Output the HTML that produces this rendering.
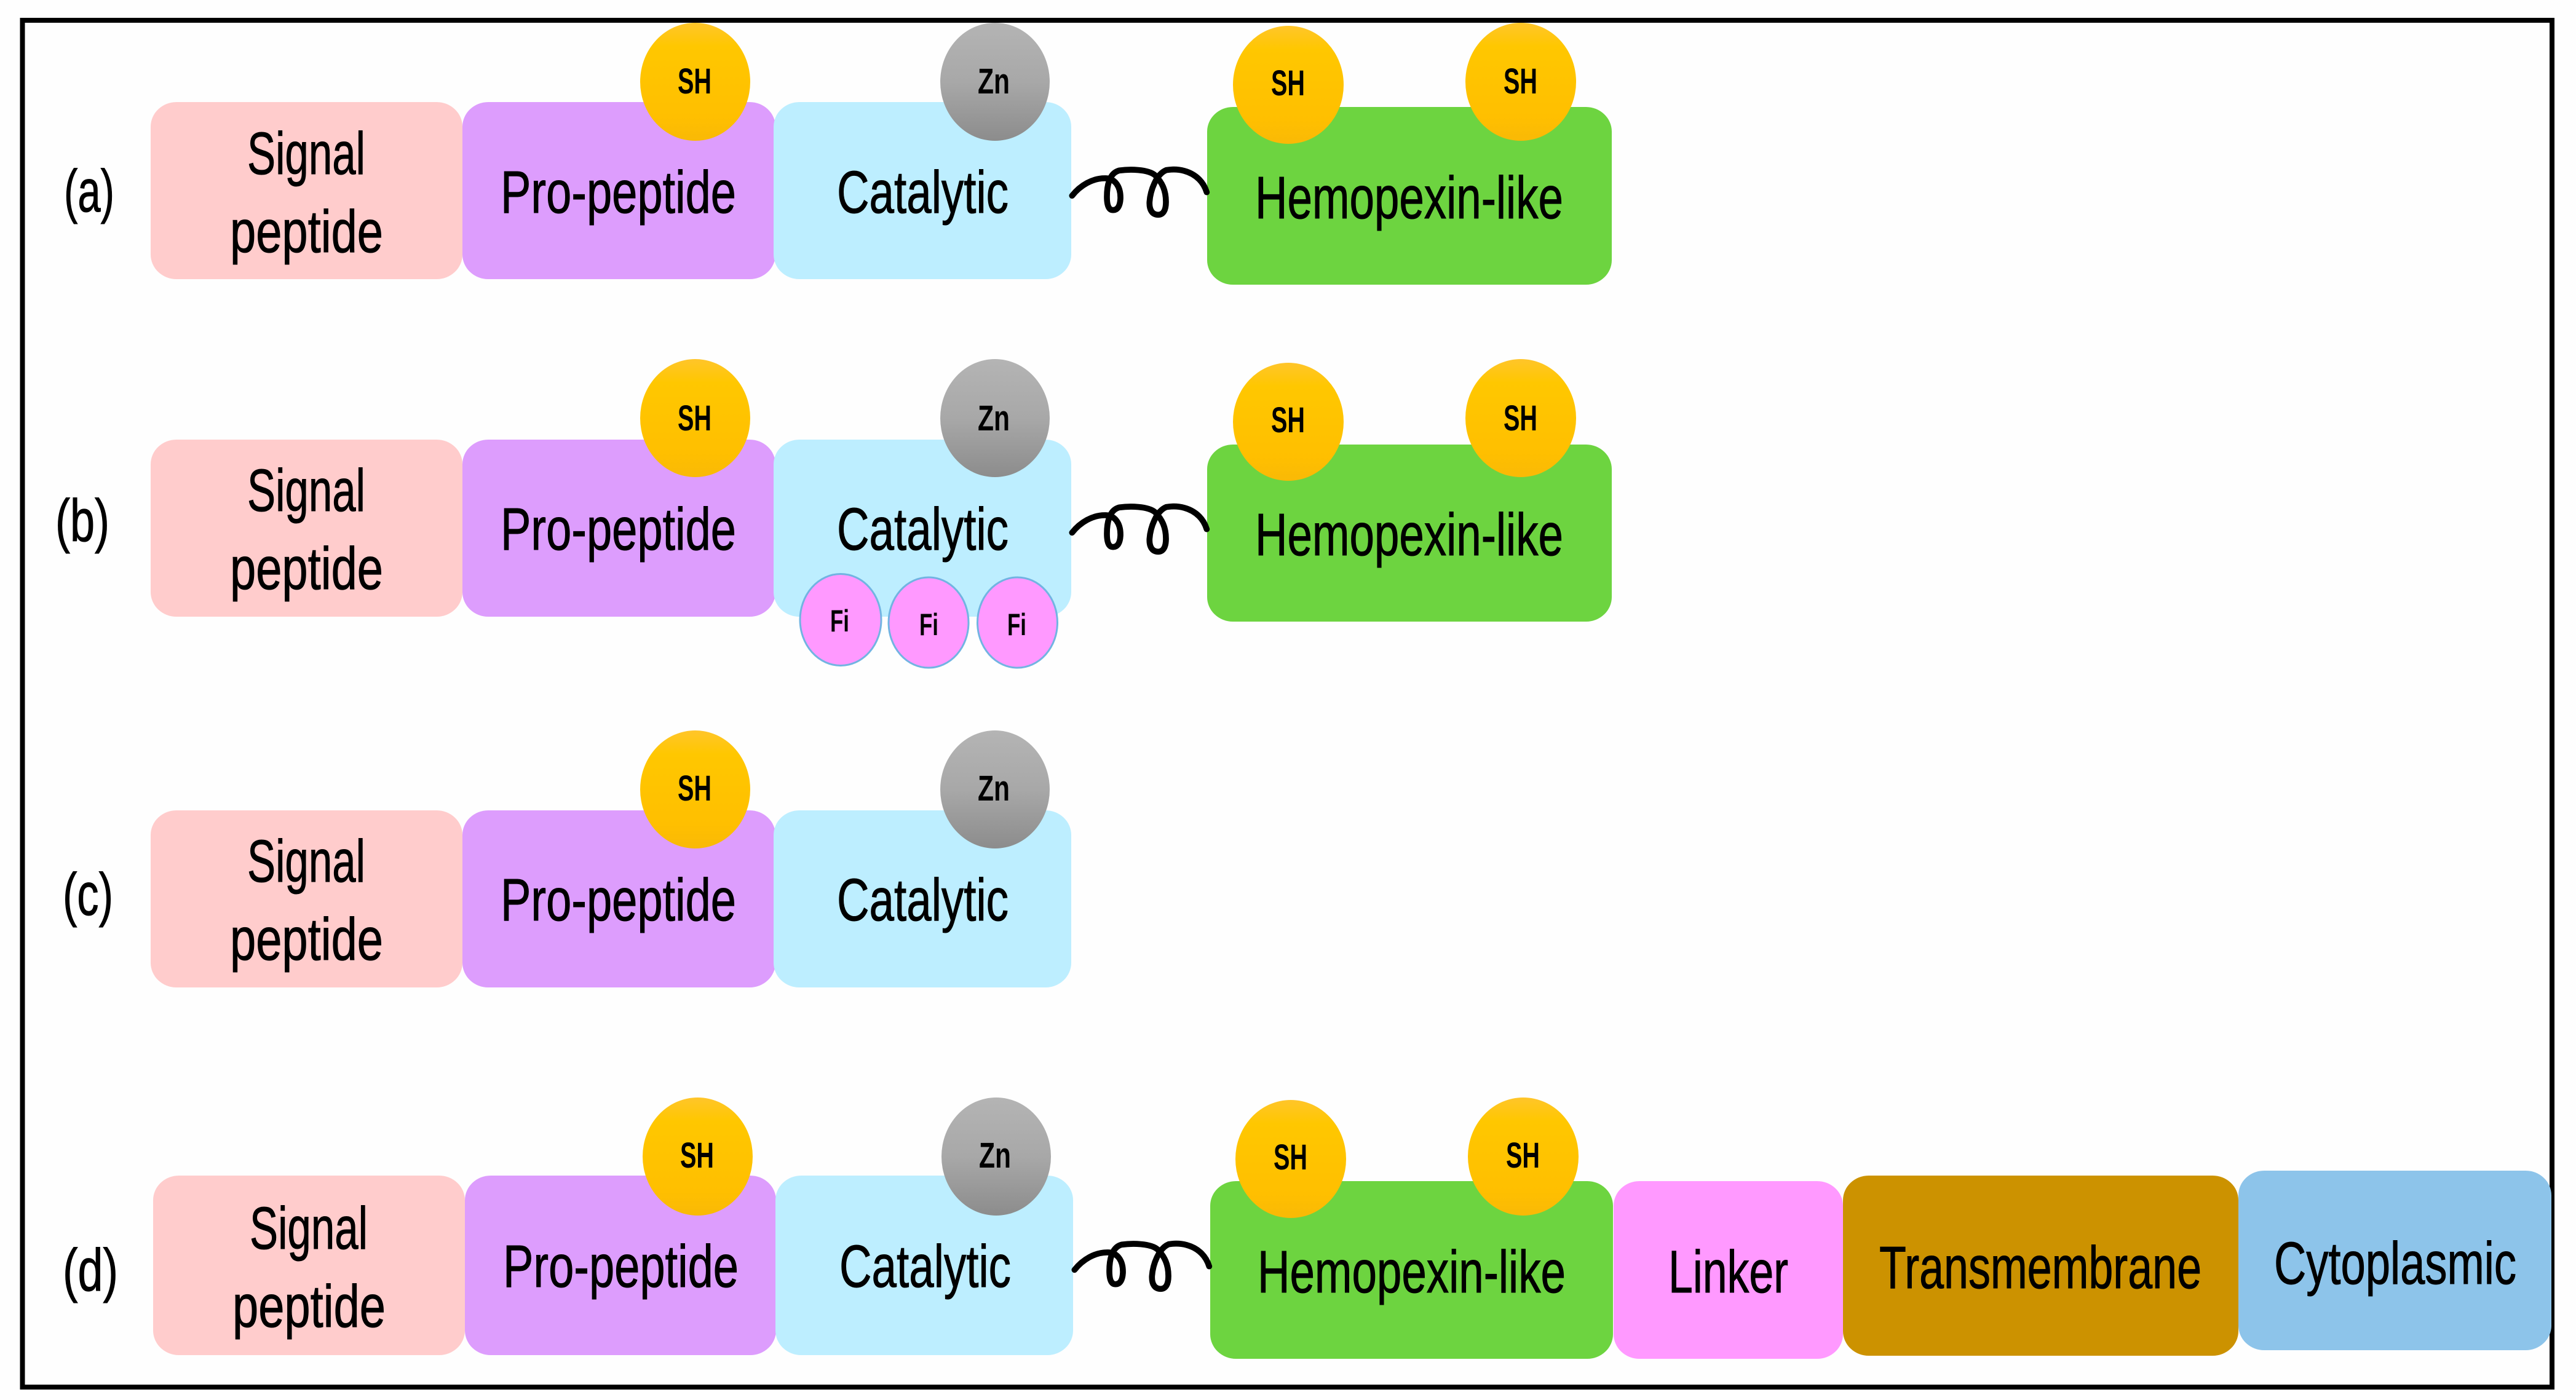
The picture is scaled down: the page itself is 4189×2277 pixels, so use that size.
<!DOCTYPE html>
<html><head><meta charset="utf-8"><style>html,body{margin:0;padding:0;background:#fff}svg{display:block}text{font-family:"Liberation Sans",sans-serif;fill:#000;stroke:#000;stroke-width:1;font-size:97px}.s{font-size:58px;font-weight:bold;stroke-width:0}.f{font-size:50px;font-weight:bold;stroke-width:0}.c{fill:none;stroke:#000;stroke-width:29;stroke-linecap:round}</style></head><body>
<svg width="4189" height="2277" viewBox="0 0 4189 2277" xmlns="http://www.w3.org/2000/svg">
<defs>
<linearGradient id="y" x1="0" y1="0" x2="0" y2="1"><stop offset="0" stop-color="#ffc52a"/><stop offset=".2" stop-color="#ffc700"/><stop offset=".8" stop-color="#ffbf00"/><stop offset="1" stop-color="#f9b906"/></linearGradient>
<linearGradient id="g" x1="0" y1="0" x2="0" y2="1"><stop offset="0" stop-color="#b4b4b4"/><stop offset=".5" stop-color="#a8a8a8"/><stop offset="1" stop-color="#8c8c8c"/></linearGradient>
</defs>
<rect width="4189" height="2277" fill="#fefefe"/>
<rect x="36.500" y="33" width="4113.500" height="2223" fill="none" stroke="#000" stroke-width="8"/>

<!-- Row a -->
<rect x="245" y="166" width="507" height="288" rx="42" ry="40" fill="#ffcccc"/>
<rect x="752" y="166" width="509" height="288" rx="42" ry="40" fill="#dd9dfd"/>
<rect x="1258" y="166" width="484" height="288" rx="42" ry="40" fill="#bdeeff"/>
<rect x="1963" y="174" width="658" height="289" rx="42" ry="40" fill="#6dd440"/>
<ellipse cx="1130.500" cy="133" rx="89.500" ry="96" fill="url(#y)"/>
<ellipse cx="1618" cy="133" rx="89" ry="96" fill="url(#g)"/>
<ellipse cx="2095" cy="138" rx="90" ry="96" fill="url(#y)"/>
<ellipse cx="2473" cy="133" rx="90" ry="96" fill="url(#y)"/>
<g transform="translate(1730 240) scale(.33333)"><path class="c" d="M40 235C80 185 140 148 205 150C250 152 278 190 276 250C274 285 262 305 240 305C218 305 210 280 210 240C210 190 220 125 270 112C320 105 410 105 445 135C480 170 498 210 498 265C498 305 485 328 460 328C432 328 416 305 418 265C422 210 450 130 500 110C560 100 620 115 660 155C680 175 690 195 697 218"/></g>
<text x="402" y="283" textLength="192" lengthAdjust="spacingAndGlyphs">Signal</text>
<text x="374" y="410" textLength="249" lengthAdjust="spacingAndGlyphs">peptide</text>
<text x="814" y="346" textLength="383" lengthAdjust="spacingAndGlyphs">Pro-peptide</text>
<text x="1361" y="346" textLength="279" lengthAdjust="spacingAndGlyphs">Catalytic</text>
<text x="2041" y="355" textLength="501" lengthAdjust="spacingAndGlyphs">Hemopexin-like</text>
<text x="104" y="344" textLength="82" lengthAdjust="spacingAndGlyphs">(a)</text>
<text class="s" x="1102" y="152" textLength="55" lengthAdjust="spacingAndGlyphs">SH</text>
<text class="s" x="1590" y="152" textLength="52" lengthAdjust="spacingAndGlyphs">Zn</text>
<text class="s" x="2067" y="155" textLength="55" lengthAdjust="spacingAndGlyphs">SH</text>
<text class="s" x="2445" y="152" textLength="55" lengthAdjust="spacingAndGlyphs">SH</text>

<!-- Row b -->
<rect x="245" y="715" width="507" height="288" rx="42" ry="40" fill="#ffcccc"/>
<rect x="752" y="715" width="509" height="288" rx="42" ry="40" fill="#dd9dfd"/>
<rect x="1258" y="715" width="484" height="288" rx="42" ry="40" fill="#bdeeff"/>
<rect x="1963" y="723" width="658" height="288" rx="42" ry="40" fill="#6dd440"/>
<ellipse cx="1130.500" cy="680" rx="89.500" ry="96" fill="url(#y)"/>
<ellipse cx="1618" cy="680" rx="89" ry="96" fill="url(#g)"/>
<ellipse cx="2095" cy="686" rx="90" ry="96" fill="url(#y)"/>
<ellipse cx="2473" cy="680" rx="90" ry="96" fill="url(#y)"/>
<g transform="translate(1730 788) scale(.33333)"><path class="c" d="M40 235C80 185 140 148 205 150C250 152 278 190 276 250C274 285 262 305 240 305C218 305 210 280 210 240C210 190 220 125 270 112C320 105 410 105 445 135C480 170 498 210 498 265C498 305 485 328 460 328C432 328 416 305 418 265C422 210 450 130 500 110C560 100 620 115 660 155C680 175 690 195 697 218"/></g>
<ellipse cx="1367" cy="1008" rx="66" ry="74.500" fill="#ff99ff" stroke="#72b4e2" stroke-width="3"/>
<ellipse cx="1510" cy="1012.500" rx="65" ry="73.500" fill="#ff99ff" stroke="#72b4e2" stroke-width="3"/>
<ellipse cx="1654.500" cy="1012.500" rx="65" ry="73.500" fill="#ff99ff" stroke="#72b4e2" stroke-width="3"/>
<text class="f" x="1350" y="1027" textLength="31" lengthAdjust="spacingAndGlyphs">Fi</text>
<text class="f" x="1495" y="1033" textLength="31" lengthAdjust="spacingAndGlyphs">Fi</text>
<text class="f" x="1638" y="1033" textLength="31" lengthAdjust="spacingAndGlyphs">Fi</text>
<text x="402" y="831" textLength="192" lengthAdjust="spacingAndGlyphs">Signal</text>
<text x="374" y="958" textLength="249" lengthAdjust="spacingAndGlyphs">peptide</text>
<text x="814" y="894" textLength="383" lengthAdjust="spacingAndGlyphs">Pro-peptide</text>
<text x="1361" y="894" textLength="279" lengthAdjust="spacingAndGlyphs">Catalytic</text>
<text x="2041" y="903" textLength="501" lengthAdjust="spacingAndGlyphs">Hemopexin-like</text>
<text x="90" y="880" textLength="88" lengthAdjust="spacingAndGlyphs">(b)</text>
<text class="s" x="1102" y="700" textLength="55" lengthAdjust="spacingAndGlyphs">SH</text>
<text class="s" x="1590" y="700" textLength="52" lengthAdjust="spacingAndGlyphs">Zn</text>
<text class="s" x="2067" y="703" textLength="55" lengthAdjust="spacingAndGlyphs">SH</text>
<text class="s" x="2445" y="700" textLength="55" lengthAdjust="spacingAndGlyphs">SH</text>

<!-- Row c -->
<rect x="245" y="1318" width="507" height="288" rx="42" ry="40" fill="#ffcccc"/>
<rect x="752" y="1318" width="509" height="288" rx="42" ry="40" fill="#dd9dfd"/>
<rect x="1258" y="1318" width="484" height="288" rx="42" ry="40" fill="#bdeeff"/>
<ellipse cx="1130.500" cy="1284" rx="89.500" ry="96" fill="url(#y)"/>
<ellipse cx="1618" cy="1284" rx="89" ry="96" fill="url(#g)"/>
<text x="402" y="1434" textLength="192" lengthAdjust="spacingAndGlyphs">Signal</text>
<text x="374" y="1561" textLength="249" lengthAdjust="spacingAndGlyphs">peptide</text>
<text x="814" y="1497" textLength="383" lengthAdjust="spacingAndGlyphs">Pro-peptide</text>
<text x="1361" y="1497" textLength="279" lengthAdjust="spacingAndGlyphs">Catalytic</text>
<text x="102" y="1488" textLength="82" lengthAdjust="spacingAndGlyphs">(c)</text>
<text class="s" x="1102" y="1302" textLength="55" lengthAdjust="spacingAndGlyphs">SH</text>
<text class="s" x="1590" y="1302" textLength="52" lengthAdjust="spacingAndGlyphs">Zn</text>

<!-- Row d -->
<rect x="249" y="1912" width="507" height="292" rx="42" ry="40" fill="#ffcccc"/>
<rect x="756" y="1912" width="506" height="292" rx="42" ry="40" fill="#dd9dfd"/>
<rect x="1261" y="1912" width="484" height="292" rx="42" ry="40" fill="#bdeeff"/>
<rect x="1968" y="1921" width="655" height="289" rx="42" ry="40" fill="#6dd440"/>
<rect x="2624" y="1921" width="373" height="289" rx="42" ry="40" fill="#ff99ff"/>
<rect x="2997" y="1912" width="643" height="293" rx="42" ry="40" fill="#cc9200"/>
<rect x="3640" y="1904" width="509" height="292" rx="42" ry="40" fill="#8dc4ea"/>
<ellipse cx="1134.500" cy="1881" rx="89.500" ry="96" fill="url(#y)"/>
<ellipse cx="1620" cy="1881" rx="89" ry="96" fill="url(#g)"/>
<ellipse cx="2099" cy="1885" rx="90" ry="96" fill="url(#y)"/>
<ellipse cx="2477" cy="1881" rx="90" ry="96" fill="url(#y)"/>
<g transform="translate(1734 1987) scale(.33333)"><path class="c" d="M40 235C80 185 140 148 205 150C250 152 278 190 276 250C274 285 262 305 240 305C218 305 210 280 210 240C210 190 220 125 270 112C320 105 410 105 445 135C480 170 498 210 498 265C498 305 485 328 460 328C432 328 416 305 418 265C422 210 450 130 500 110C560 100 620 115 660 155C680 175 690 195 697 218"/></g>
<text x="406" y="2031" textLength="192" lengthAdjust="spacingAndGlyphs">Signal</text>
<text x="378" y="2158" textLength="249" lengthAdjust="spacingAndGlyphs">peptide</text>
<text x="818" y="2093" textLength="383" lengthAdjust="spacingAndGlyphs">Pro-peptide</text>
<text x="1365" y="2093" textLength="279" lengthAdjust="spacingAndGlyphs">Catalytic</text>
<text x="2045" y="2102" textLength="501" lengthAdjust="spacingAndGlyphs">Hemopexin-like</text>
<text x="2713" y="2102" textLength="195" lengthAdjust="spacingAndGlyphs">Linker</text>
<text x="3056" y="2095" textLength="524" lengthAdjust="spacingAndGlyphs">Transmembrane</text>
<text x="3698" y="2088" textLength="394" lengthAdjust="spacingAndGlyphs">Cytoplasmic</text>
<text x="102" y="2099" textLength="90" lengthAdjust="spacingAndGlyphs">(d)</text>
<text class="s" x="1106" y="1899" textLength="55" lengthAdjust="spacingAndGlyphs">SH</text>
<text class="s" x="1592" y="1899" textLength="52" lengthAdjust="spacingAndGlyphs">Zn</text>
<text class="s" x="2071" y="1902" textLength="55" lengthAdjust="spacingAndGlyphs">SH</text>
<text class="s" x="2449" y="1899" textLength="55" lengthAdjust="spacingAndGlyphs">SH</text>
</svg>
</body></html>
